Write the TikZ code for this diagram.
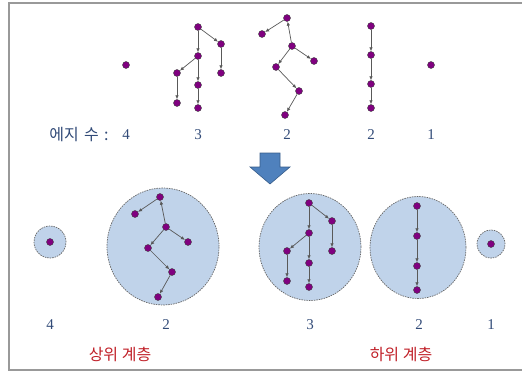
\documentclass[tikz,border=0pt]{standalone}
\usepackage{fontspec}
\setmainfont{Liberation Serif}
\newfontfamily\krfont{Noto Sans CJK KR}
\usetikzlibrary{arrows.meta}
\definecolor{vfill}{RGB}{128,0,128}
\definecolor{numcol}{RGB}{50,75,120}
\definecolor{grpfill}{RGB}{192,211,234}
\definecolor{arrfill}{RGB}{79,129,189}
\definecolor{arrline}{RGB}{56,93,138}
\definecolor{labred}{RGB}{192,32,40}
\tikzset{
  v/.style={circle, draw=black!75, fill=vfill, inner sep=0pt, minimum size=7pt, line width=0.4pt},
  e/.style={draw=black!65, line width=0.7pt, -{Latex[length=4pt,width=3.5pt]}},
  grp/.style={draw=black!60, dash pattern=on 1.5pt off 1pt, fill=grpfill, line width=0.7pt},
  num/.style={text=numcol, font=\fontsize{15}{18}\selectfont},
  layer/.style={text=labred, font=\krfont\fontsize{16}{18}\selectfont},
}
\begin{document}
\begin{tikzpicture}[x=1pt, y=-1pt]
	\useasboundingbox (0,0) rectangle (522,372);
	\draw [gray!80, line width=1.2pt] (530,3) -- (9,3) -- (9,370) -- (530,370);
	% top row
	\node [v] (s4) at (126,65) {};
	\node [v] (a1) at (198,27) {};
	\node [v] (a2) at (221,44) {};
	\node [v] (a3) at (198,56) {};
	\node [v] (a4) at (177,73) {};
	\node [v] (a5) at (221,73) {};
	\node [v] (a6) at (198,85) {};
	\node [v] (a7) at (177,103) {};
	\node [v] (a8) at (198,108) {};
	\draw [e] (a1) -- (a3);
	\draw [e] (a1) -- (a2);
	\draw [e] (a2) -- (a5);
	\draw [e] (a3) -- (a4);
	\draw [e] (a3) -- (a6);
	\draw [e] (a4) -- (a7);
	\draw [e] (a6) -- (a8);
	\node [v] (b1) at (287,18) {};
	\node [v] (b2) at (262,34) {};
	\node [v] (b3) at (292,46) {};
	\node [v] (b4) at (314,61) {};
	\node [v] (b5) at (276,67) {};
	\node [v] (b6) at (299,91) {};
	\node [v] (b7) at (285,115) {};
	\draw [e] (b1) -- (b2);
	\draw [e] (b3) -- (b1);
	\draw [e] (b3) -- (b4);
	\draw [e] (b3) -- (b5);
	\draw [e] (b5) -- (b6);
	\draw [e] (b6) -- (b7);
	\node [v] (c1) at (371,26) {};
	\node [v] (c2) at (371,55) {};
	\node [v] (c3) at (371,84) {};
	\node [v] (c4) at (371,108) {};
	\draw [e] (c1) -- (c2);
	\draw [e] (c2) -- (c3);
	\draw [e] (c3) -- (c4);
	\node [v] (s1) at (431,65) {};
	\node [num, font=\krfont\fontsize{16}{18}\selectfont] (lbl) at (79,135) {에지\,\,수\,\,:};
	\node [num] (n4) at (126,135) {4};
	\node [num] (n3) at (198,135) {3};
	\node [num] (n2a) at (287,135) {2};
	\node [num] (n2b) at (371,135) {2};
	\node [num] (n1) at (431,135) {1};
	% block arrow
	\draw [fill=arrfill, draw=arrline, line width=0.6pt] (260,153) -- (280,153) -- (280,167) -- (290,167) -- (270,184) -- (250,167) -- (260,167) -- cycle;
	% groups
	\draw [grp] (50,242) circle [radius=16pt];
	\draw [grp] (163,246.5) ellipse [x radius=56pt, y radius=58.5pt];
	\draw [grp] (310,247) ellipse [x radius=51pt, y radius=53.5pt];
	\draw [grp] (418,247.5) ellipse [x radius=48pt, y radius=51pt];
	\draw [grp] (491,244) circle [radius=14pt];
	\node [v] (g4) at (50,242) {};
	\node [v] (p1) at (160,197) {};
	\node [v] (p2) at (135,214) {};
	\node [v] (p3) at (166,227) {};
	\node [v] (p4) at (188,242) {};
	\node [v] (p5) at (148,248) {};
	\node [v] (p6) at (172,272) {};
	\node [v] (p7) at (158,297) {};
	\draw [e] (p1) -- (p2);
	\draw [e] (p3) -- (p1);
	\draw [e] (p3) -- (p4);
	\draw [e] (p3) -- (p5);
	\draw [e] (p5) -- (p6);
	\draw [e] (p6) -- (p7);
	\node [v] (q1) at (309,203) {};
	\node [v] (q2) at (332,221) {};
	\node [v] (q3) at (309,233) {};
	\node [v] (q4) at (287,251) {};
	\node [v] (q5) at (332,251) {};
	\node [v] (q6) at (309,263) {};
	\node [v] (q7) at (287,281) {};
	\node [v] (q8) at (309,287) {};
	\draw [e] (q1) -- (q3);
	\draw [e] (q1) -- (q2);
	\draw [e] (q2) -- (q5);
	\draw [e] (q3) -- (q4);
	\draw [e] (q3) -- (q6);
	\draw [e] (q4) -- (q7);
	\draw [e] (q6) -- (q8);
	\node [v] (r1) at (417,206) {};
	\node [v] (r2) at (417,236) {};
	\node [v] (r3) at (417,266) {};
	\node [v] (r4) at (417,290) {};
	\draw [e] (r1) -- (r2);
	\draw [e] (r2) -- (r3);
	\draw [e] (r3) -- (r4);
	\node [v] (g1) at (491,244) {};
	\node [num] (m4) at (50,325) {4};
	\node [num] (m2a) at (166,325) {2};
	\node [num] (m3) at (310,325) {3};
	\node [num] (m2b) at (419,325) {2};
	\node [num] (m1) at (491,325) {1};
	\node [layer] (upper) at (120,354) {상위 계층};
	\node [layer] (lower) at (401,354) {하위 계층};
\end{tikzpicture}
\end{document}
